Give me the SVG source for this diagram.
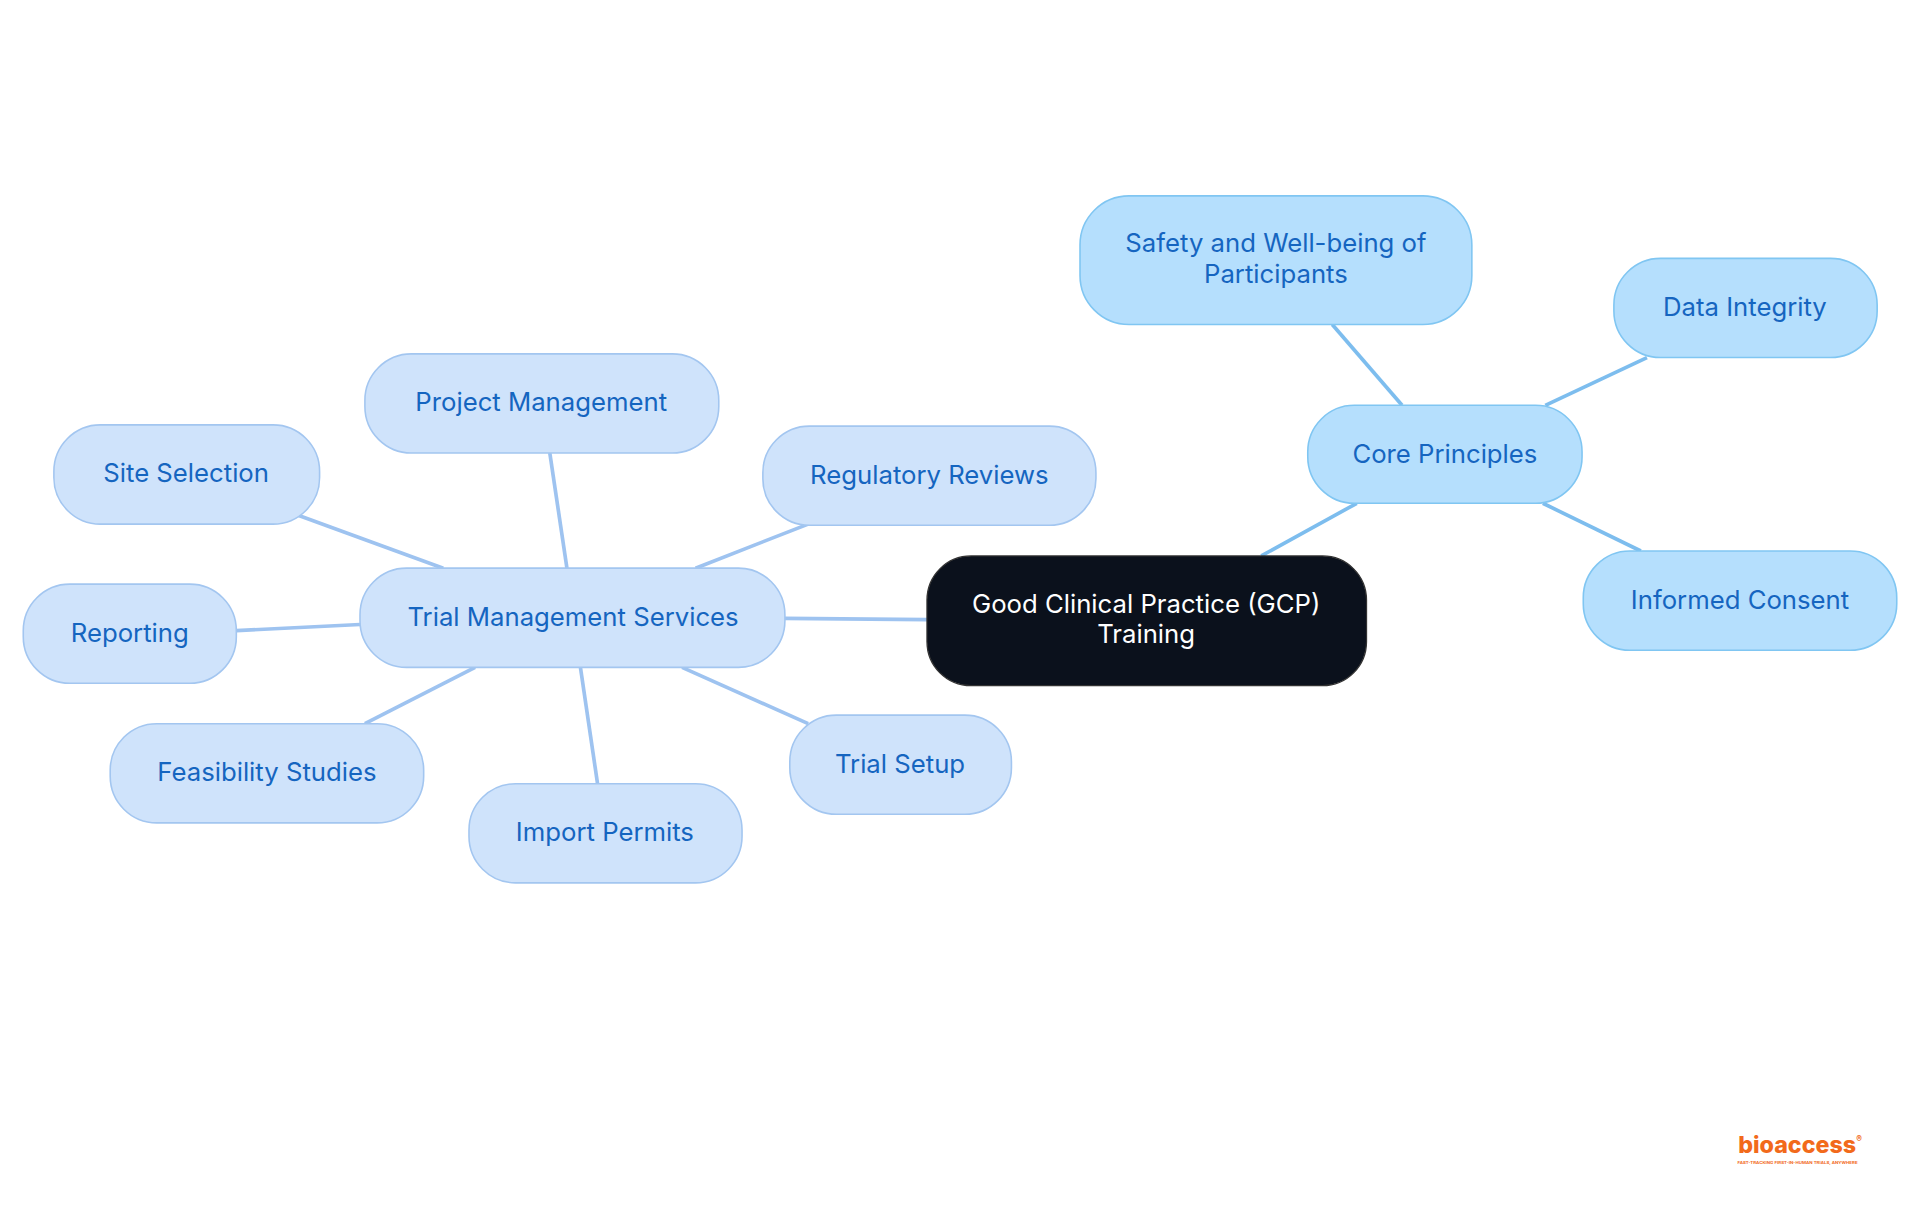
<svg xmlns="http://www.w3.org/2000/svg" width="1920" height="1215" viewBox="0 0 1920 1215">
<style>
.t{font-family:Inter,"Noto Sans",sans-serif;font-size:21px;fill:#1565c0;text-anchor:middle}
.w{fill:#fff}
.cp{fill:#b5dffd;stroke:#80c6f2;stroke-width:1.3}
.tm{fill:#cfe3fb;stroke:#a3c6f0;stroke-width:1.3}
.e1{stroke:#7dbdee;stroke-width:3;fill:none}
.e2{stroke:#9ec3f0;stroke-width:3;fill:none}
</style>
<rect width="1920" height="1215" fill="#fff"/>
<g transform="scale(1.2245)">
<g id="connectors">
<line class="e2" x1="757" y1="506" x2="641" y2="505"/>
<line class="e1" x1="1030" y1="454" x2="1108" y2="411"/>
<line class="e1" x1="1145" y1="331" x2="1088" y2="265"/>
<line class="e1" x1="1262" y1="331" x2="1345" y2="292"/>
<line class="e1" x1="1260" y1="411" x2="1340" y2="450"/>
<line class="e2" x1="463" y1="464" x2="449" y2="370"/>
<line class="e2" x1="362" y1="464" x2="244" y2="421"/>
<line class="e2" x1="568" y1="464" x2="660" y2="428"/>
<line class="e2" x1="294" y1="510" x2="193" y2="515"/>
<line class="e2" x1="388" y1="545" x2="298" y2="591"/>
<line class="e2" x1="474" y1="545" x2="488" y2="640"/>
<line class="e2" x1="557" y1="545" x2="660" y2="591"/>
</g>
<g id="central"><rect x="757" y="454" width="359" height="106" rx="36" fill="#0b111c" stroke="#333" stroke-width="1"/>
<text class="t w" x="936" y="501">Good Clinical Practice (GCP)</text><text class="t w" x="936" y="525">Training</text></g>
<g id="core"><rect class="cp" x="1068" y="331" width="224" height="80" rx="38"/><text class="t" x="1180" y="378">Core Principles</text></g>
<g id="safety"><rect class="cp" x="882" y="160" width="320" height="105" rx="40"/><text class="t" x="1042" y="206">Safety and Well-being of</text><text class="t" x="1042" y="231">Participants</text></g>
<g id="data"><rect class="cp" x="1318" y="211" width="215" height="81" rx="38"/><text class="t" x="1425" y="258">Data Integrity</text></g>
<g id="consent"><rect class="cp" x="1293" y="450" width="256" height="81" rx="38"/><text class="t" x="1421" y="497">Informed Consent</text></g>
<g id="tms"><rect class="tm" x="294" y="464" width="347" height="81" rx="38"/><text class="t" x="468" y="511">Trial Management Services</text></g>
<g id="pm"><rect class="tm" x="298" y="289" width="289" height="81" rx="38"/><text class="t" x="442" y="336">Project Management</text></g>
<g id="ss"><rect class="tm" x="44" y="347" width="217" height="81" rx="38"/><text class="t" x="152" y="394">Site Selection</text></g>
<g id="rr"><rect class="tm" x="623" y="348" width="272" height="81" rx="38"/><text class="t" x="759" y="395">Regulatory Reviews</text></g>
<g id="rep"><rect class="tm" x="19" y="477" width="174" height="81" rx="38"/><text class="t" x="106" y="524">Reporting</text></g>
<g id="fs"><rect class="tm" x="90" y="591" width="256" height="81" rx="38"/><text class="t" x="218" y="638">Feasibility Studies</text></g>
<g id="ip"><rect class="tm" x="383" y="640" width="223" height="81" rx="38"/><text class="t" x="494" y="687">Import Permits</text></g>
<g id="ts"><rect class="tm" x="645" y="584" width="181" height="81" rx="38"/><text class="t" x="735" y="631">Trial Setup</text></g>
<g id="logo">
<text x="1470" y="942" font-family="Inter,'Noto Sans',sans-serif" font-size="19" font-weight="800" fill="#f26a1b" text-anchor="middle">bioaccess<tspan font-size="7" dy="-9">®</tspan></text>
<text x="1419" y="951" font-family="Inter,'Noto Sans',sans-serif" font-size="3.2" font-weight="700" fill="#f26a1b" textLength="98" lengthAdjust="spacingAndGlyphs">FAST-TRACKING FIRST-IN-HUMAN TRIALS, ANYWHERE</text>
</g>
</g>
</svg>
